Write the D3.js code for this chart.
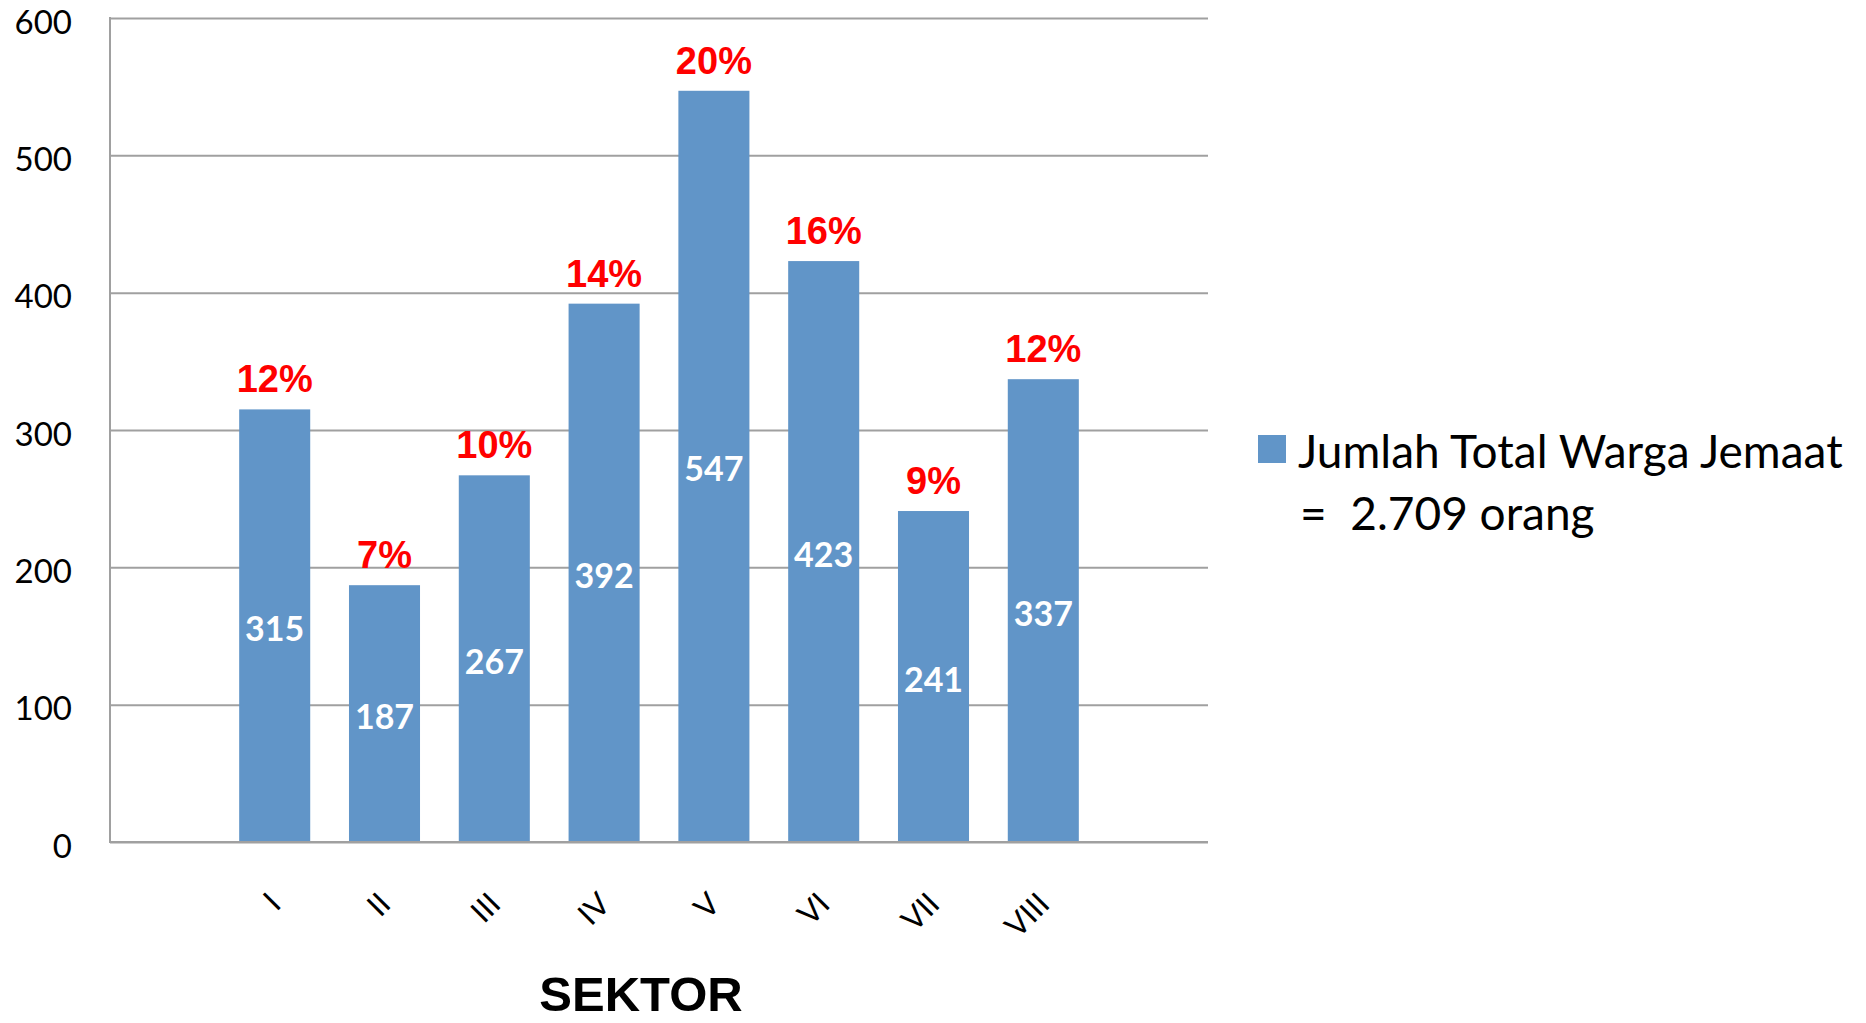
<!DOCTYPE html>
<html>
<head>
<meta charset="utf-8">
<script src="https://cdn.jsdelivr.net/npm/d3@7"></script>
<style>
  html, body { margin: 0; padding: 0; background: #fff; }
  svg { display: block; }
</style>
</head>
<body>
<svg id="main-svg" width="1866" height="1023"></svg>
<script>
// data
const sectors = ["I", "II", "III", "IV", "V", "VI", "VII", "VIII"];
const wargaValues = [315, 187, 267, 392, 547, 423, 241, 337];
const percentLabels = ["12%", "7%", "10%", "14%", "20%", "16%", "9%", "12%"];
const yTicks = [0, 100, 200, 300, 400, 500, 600];
const legendLines = ["Jumlah Total Warga Jemaat", "=  2.709 orang"];
const axisTitle = "SEKTOR";

var svg = d3.select("#main-svg");

var plotLeft = 110, plotRight = 1208, plotTop = 18, plotBottom = 842;
var barColor = "#6195c8";
var gridColor = "#a0a0a0";

// one empty slot on each side of the sectors
var step = (plotRight - plotLeft) / (sectors.length + 2);
var x = d3.scaleBand()
    .domain(sectors)
    .range([plotLeft + step, plotRight - step])
    .paddingInner(0.353)
    .paddingOuter(0.1765);

var y = d3.scaleLinear()
    .domain([0, 600])
    .range([plotBottom, plotTop]);

// gridlines + y labels
var yAxis = svg.append("g")
    .attr("transform", "translate(" + plotLeft + ",0)")
    .call(d3.axisLeft(y)
      .tickValues(yTicks)
      .tickSize(-(plotRight - plotLeft))
      .tickSizeOuter(0)
      .tickPadding(38));
yAxis.select(".domain").remove();
yAxis.selectAll(".tick line")
    .attr("stroke", gridColor)
    .attr("stroke-width", 2);
yAxis.selectAll(".tick text")
    .attr("dy", null)
    .attr("y", 15)
    .style("font-family", "Lato, 'Open Sans', sans-serif")
    .style("font-size", "33px")
    .style("fill", "#000");

// left axis line
svg.append("line")
    .attr("x1", plotLeft).attr("x2", plotLeft)
    .attr("y1", plotTop - 1).attr("y2", plotBottom + 1)
    .attr("stroke", gridColor)
    .attr("stroke-width", 2);

var bars = svg.append("g").selectAll("rect")
    .data(wargaValues)
    .enter().append("rect")
    .attr("x", function(d, i) { return x(sectors[i]); })
    .attr("y", function(d) { return y(d); })
    .attr("width", x.bandwidth())
    .attr("height", function(d) { return y(0) - y(d) - 1; })
    .attr("fill", barColor);

// baseline drawn over bars
svg.append("line")
    .attr("x1", plotLeft - 1).attr("x2", plotRight)
    .attr("y1", plotBottom).attr("y2", plotBottom)
    .attr("stroke", gridColor)
    .attr("stroke-width", 2);

// values inside bars
svg.append("g").selectAll("text")
    .data(wargaValues)
    .enter().append("text")
    .attr("x", function(d, i) { return x(sectors[i]) + x.bandwidth() / 2; })
    .attr("y", function(d) { return (y(d) + y(0)) / 2 + 15; })
    .attr("text-anchor", "middle")
    .style("font-family", "Lato, 'Open Sans', sans-serif")
    .style("font-weight", "bold")
    .style("font-size", "34px")
    .style("fill", "#fff")
    .text(function(d) { return d; });

// percentages above bars
svg.append("g").selectAll("text")
    .data(percentLabels)
    .enter().append("text")
    .attr("x", function(d, i) { return x(sectors[i]) + x.bandwidth() / 2; })
    .attr("y", function(d, i) { return y(wargaValues[i]) - 17; })
    .attr("text-anchor", "middle")
    .style("font-family", "'Liberation Sans', Arial, sans-serif")
    .style("font-weight", "bold")
    .style("font-size", "38px")
    .style("fill", "#ff0000")
    .text(function(d) { return d; });

// x axis labels, rotated
var xAxis = svg.append("g")
    .attr("transform", "translate(0," + plotBottom + ")")
    .call(d3.axisBottom(x).tickSize(0).tickSizeOuter(0));
xAxis.select(".domain").remove();
xAxis.selectAll(".tick text")
    .attr("x", 0).attr("y", 0).attr("dy", null)
    .attr("text-anchor", "end")
    .attr("transform", "translate(8,64) rotate(-45)")
    .style("font-family", "Lato, 'Open Sans', sans-serif")
    .style("font-size", "31px")
    .style("fill", "#000");

// axis title
svg.append("text")
    .attr("x", 641)
    .attr("y", 1011)
    .attr("text-anchor", "middle")
    .style("font-family", "'Liberation Sans', Arial, sans-serif")
    .style("font-weight", "bold")
    .style("font-size", "49px")
    .style("fill", "#000")
    .text(axisTitle);

// legend
var legend = svg.append("g");
legend.append("rect")
    .attr("x", 1258).attr("y", 435)
    .attr("width", 28).attr("height", 28)
    .attr("fill", barColor);
legend.selectAll("text.legend-line")
    .data(legendLines)
    .enter().append("text")
    .attr("class", "legend-line")
    .attr("x", function(d, i) { return i == 0 ? 1298 : 1300; })
    .attr("y", function(d, i) { return 468 + i * 62; })
    .attr("xml:space", "preserve")
    .style("white-space", "pre")
    .style("font-family", "Lato, 'Open Sans', sans-serif")
    .style("font-size", "46px")
    .style("fill", "#000")
    .text(function(d) { return d; });
</script>
</body>
</html>
